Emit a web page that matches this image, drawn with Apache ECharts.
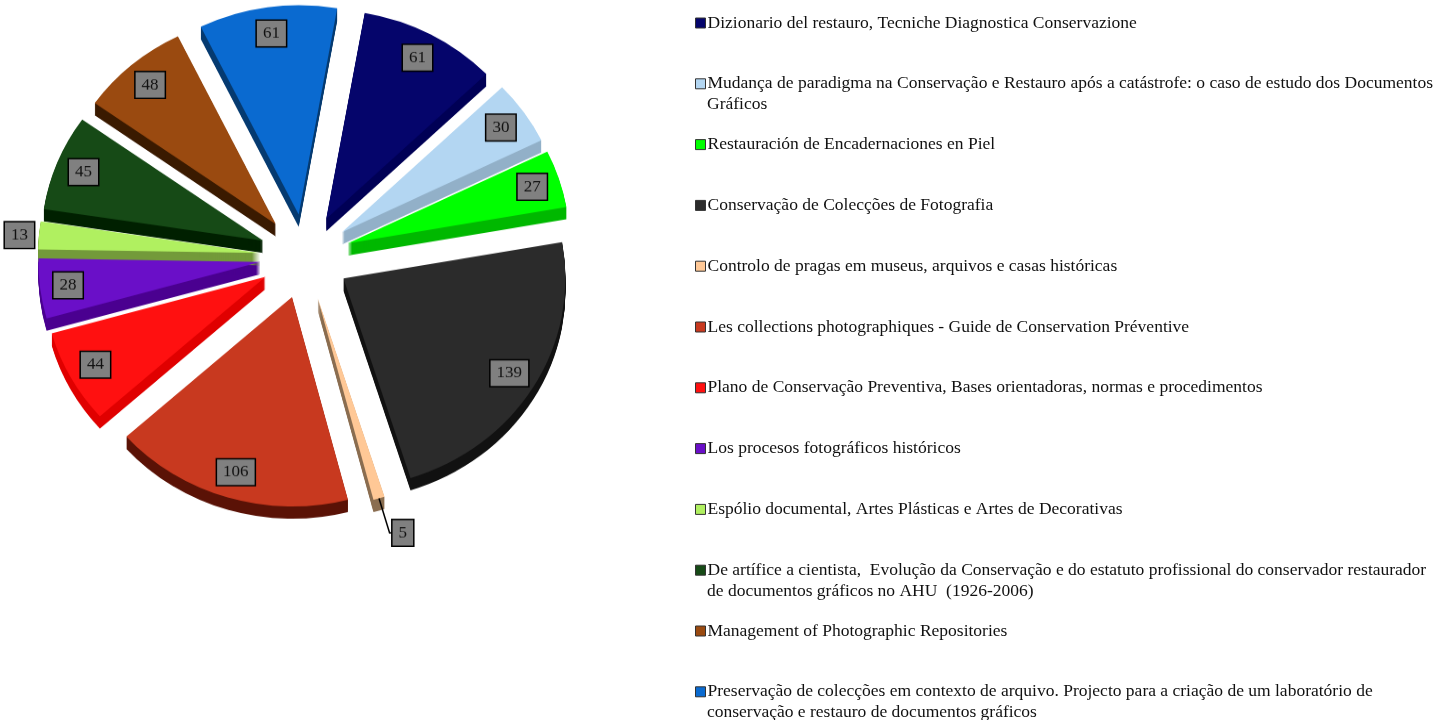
<!DOCTYPE html>
<html>
<head>
<meta charset="utf-8">
<style>
  html, body { margin: 0; padding: 0; background: #fff; overflow: hidden; }
  #legendChart { position: absolute; left: 0; top: 0; width: 1437px; height: 720px; }
  /* the pie is seen from above in the original, so it is flattened a little */
  #pieChart { position: absolute; left: 0; top: 0; width: 680px; height: 760px; transform: scaleY(0.943); transform-origin: 0 0; }
</style>
<script src="https://cdn.jsdelivr.net/npm/echarts@6/dist/echarts.min.js"></script>
</head>
<body>
<div id="legendChart"></div>
<div id="pieChart"></div>
<script>
// legend text, first line goes in the legend, second line is drawn under it
const categories = [
  'Dizionario del restauro, Tecniche Diagnostica Conservazione',
  'Mudança de paradigma na Conservação e Restauro após a catástrofe: o caso de estudo dos Documentos',
  'Restauración de Encadernaciones en Piel',
  'Conservação de Colecções de Fotografia',
  'Controlo de pragas em museus, arquivos e casas históricas',
  'Les collections photographiques - Guide de Conservation Préventive',
  'Plano de Conservação Preventiva, Bases orientadoras, normas e procedimentos',
  'Los procesos fotográficos históricos',
  'Espólio documental, Artes Plásticas e Artes de Decorativas',
  'De artífice a cientista,  Evolução da Conservação e do estatuto profissional do conservador restaurador',
  'Management of Photographic Repositories',
  'Preservação de colecções em contexto de arquivo. Projecto para a criação de um laboratório de'
];
const secondLines = ['', 'Gráficos', '', '', '', '', '', '', '', 'de documentos gráficos no AHU  (1926-2006)', '', 'conservação e restauro de documentos gráficos'];
const values = [61, 30, 27, 139, 5, 106, 44, 28, 13, 45, 48, 61];
const topColors = ['#05056b', '#b3d6f2', '#00ff00', '#2b2b2b', '#ffc896', '#c8391f', '#ff1010', '#6a0fc8', '#b0f060', '#164a16', '#9a4a10', '#0a6ad0'];
const sideColors = ['#000055', '#92b0c8', '#00b800', '#111111', '#8a6d50', '#5a1206', '#e00000', '#4a0090', '#739a3a', '#002000', '#3a1a00', '#053a70'];
const outsideLabels = [4, 8];

const cx = 305, cy = 272, radius = 222, depth = 13;
const serif = '"Liberation Serif", "Times New Roman", serif';

function pieData(colors) {
  return categories.map((name, i) => ({
    name: name,
    value: values[i],
    selected: true,
    itemStyle: { color: colors[i] }
  }));
}

function slicePie(colors, yOffset, z) {
  return {
    type: 'pie',
    silent: true,
    animation: false,
    z: z,
    center: [cx, cy + yOffset],
    radius: [0, radius],
    startAngle: 80,
    selectedMode: 'multiple',
    selectedOffset: 45,
    avoidLabelOverlap: false,
    label: { show: false },
    labelLine: { show: false },
    data: pieData(colors)
  };
}

const series = [slicePie(topColors, 0, 5)];
for (let k = 1; k <= depth; k++) {
  series.push(slicePie(sideColors, k, 2));
}

// transparent ring, only carries the boxed value labels
const labelRing = slicePie(topColors.map(() => 'transparent'), 0, 6);
labelRing.radius = [radius * 0.72, radius];
labelRing.data.forEach((d, i) => {
  const outside = outsideLabels.includes(i);
  d.label = {
    show: true,
    position: outside ? 'outside' : 'inside',
    formatter: '{c}',
    fontFamily: serif,
    fontSize: 17,
    color: '#111',
    backgroundColor: '#808080',
    borderColor: '#000',
    borderWidth: 1.5,
    padding: [6, 6, 4, 6],
    distanceToLabelLine: i === 4 ? 0 : 2
  };
  d.labelLine = {
    show: i === 4,
    length: i === 4 ? 38 : 3,
    length2: i === 4 ? 3 : 0,
    lineStyle: { color: '#000', width: 1.5 }
  };
});
series.push(labelRing);

const pieChart = echarts.init(document.getElementById('pieChart'), null, { renderer: 'canvas' });
pieChart.setOption({
  animation: false,
  series: series
});

// legend sits in its own chart so its text is not flattened with the pie
const legendChart = echarts.init(document.getElementById('legendChart'), null, { renderer: 'canvas' });
legendChart.setOption({
  backgroundColor: '#fff',
  animation: false,
  legend: {
    orient: 'vertical',
    left: 695,
    top: 14,
    padding: 0,
    selectedMode: false,
    icon: 'rect',
    itemWidth: 10,
    itemHeight: 10,
    itemGap: 42.8,
    itemStyle: { borderColor: '#333', borderWidth: 1 },
    textStyle: { fontFamily: serif, fontSize: 17.5, lineHeight: 16, color: '#111', padding: [0, 0, 0, -3] },
    data: categories
  },
  graphic: secondLines.map((text, i) => ({
    type: 'text',
    left: 707,
    top: 14 + i * 60.8 + 21,
    silent: true,
    style: { text: text, font: '17.5px ' + serif, fill: '#111' }
  })),
  series: [{
    type: 'pie',
    silent: true,
    animation: false,
    radius: [0, 0],
    label: { show: false },
    labelLine: { show: false },
    data: pieData(topColors)
  }]
});
</script>
</body>
</html>
